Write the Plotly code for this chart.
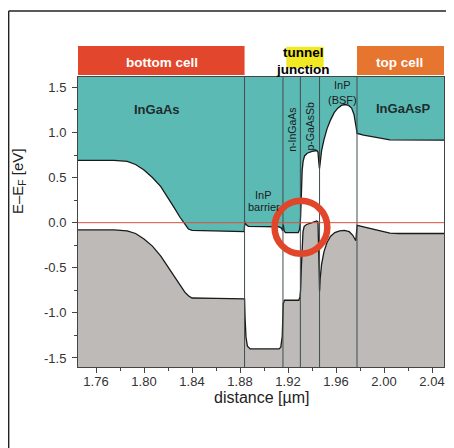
import plotly.graph_objects as go

# ---------------- data ----------------
# conduction band edge (x in µm, E-EF in eV)
cb_x = [1.745, 1.775, 1.786, 1.793, 1.800, 1.807, 1.814, 1.820, 1.825, 1.830, 1.834, 1.837, 1.840, 1.860, 1.8835,
        1.8840, 1.8850, 1.8870, 1.9120, 1.9145, 1.9155,
        1.9160, 1.9168, 1.9178, 1.9285, 1.9295, 1.9302,
        1.9306, 1.9312, 1.9318, 1.9326, 1.9338, 1.9360, 1.9400, 1.9440, 1.9450, 1.9456, 1.9462,
        1.9468, 1.9480, 1.9500, 1.9525, 1.9555, 1.9585, 1.9615, 1.9645, 1.9675, 1.9705, 1.9730, 1.9750, 1.9765, 1.9773,
        1.9776, 1.9830, 1.9890, 1.9970, 2.0050, 2.0500]
cb_e = [0.69, 0.69, 0.68, 0.645, 0.585, 0.50, 0.40, 0.28, 0.17, 0.06, -0.02, -0.07, -0.085, -0.09, -0.10,
        0.01, -0.02, -0.04, -0.045, -0.06, -0.09,
        -0.02, -0.09, -0.11, -0.11, -0.08, -0.02,
        0.10, 0.40, 0.58, 0.68, 0.74, 0.77, 0.79, 0.80, 0.78, 0.68, 0.60,
        0.66, 0.80, 0.92, 1.04, 1.14, 1.22, 1.27, 1.30, 1.31, 1.30, 1.27, 1.20, 1.08, 1.00,
        0.99, 0.97, 0.955, 0.93, 0.918, 0.915]

# valence band edge
vb_x = [1.745, 1.775, 1.786, 1.793, 1.800, 1.807, 1.814, 1.820, 1.825, 1.830, 1.834, 1.837, 1.840, 1.860, 1.8838,
        1.8842, 1.8850, 1.8862, 1.8885, 1.9125, 1.9140, 1.9152, 1.9157,
        1.9160, 1.9170, 1.9290, 1.9300,
        1.9305, 1.9311, 1.9317, 1.9325, 1.9335, 1.9355, 1.9400, 1.9440, 1.9450, 1.9456, 1.9460, 1.9463,
        1.9468, 1.9480, 1.9500, 1.9525, 1.9555, 1.9590, 1.9630, 1.9670, 1.9710, 1.9740, 1.9765,
        1.9776, 1.9830, 1.9890, 1.9970, 2.0050, 2.0120, 2.0500]
vb_e = [-0.08, -0.08, -0.09, -0.12, -0.18, -0.26, -0.37, -0.49, -0.60, -0.70, -0.77, -0.81, -0.835, -0.84, -0.845,
        -1.05, -1.27, -1.37, -1.40, -1.40, -1.38, -1.26, -1.05,
        -0.90, -0.86, -0.86, -0.82,
        -0.75, -0.50, -0.25, -0.10, -0.04, -0.02, 0.00, 0.02, 0.01, -0.20, -0.55, -0.76,
        -0.62, -0.46, -0.32, -0.22, -0.15, -0.11, -0.09, -0.085, -0.10, -0.14, -0.20,
        -0.03, -0.045, -0.063, -0.09, -0.115, -0.12, -0.12]

layer_bounds = [1.8838, 1.9158, 1.9303, 1.9463, 1.9775]
x_range = [1.745, 2.050]
y_range = [-1.60, 1.615]
x_ticks = [1.76, 1.80, 1.84, 1.88, 1.92, 1.96, 2.00, 2.04]
x_tick_text = ["1.76", "1.80", "1.84", "1.88", "1.92", "1.96", "2.00", "2.04"]
y_ticks = [-1.5, -1.0, -0.5, 0.0, 0.5, 1.0, 1.5]
y_tick_text = ["-1.5", "-1.0", "-0.5", "0.0", "0.5", "1.0", "1.5"]

TEAL = "#5cbab5"
GREY = "#bdbab8"
FONT = "Liberation Sans, Arial, sans-serif"

fig = go.Figure()

# teal region above conduction band
fig.add_trace(go.Scatter(x=cb_x + [x_range[1], x_range[0]], y=cb_e + [3, 3],
                         fill="toself", fillcolor=TEAL, line=dict(width=0),
                         mode="lines", hoverinfo="skip", showlegend=False))
# grey region below valence band
fig.add_trace(go.Scatter(x=vb_x + [x_range[1], x_range[0]], y=vb_e + [-3, -3],
                         fill="toself", fillcolor=GREY, line=dict(width=0),
                         mode="lines", hoverinfo="skip", showlegend=False))
# band edges
fig.add_trace(go.Scatter(x=cb_x, y=cb_e, mode="lines", line=dict(color="#1a1a1a", width=1.3),
                         showlegend=False))
fig.add_trace(go.Scatter(x=vb_x, y=vb_e, mode="lines", line=dict(color="#1a1a1a", width=1.3),
                         showlegend=False))

shapes = []
for b in layer_bounds:
    shapes.append(dict(type="line", xref="x", yref="paper", x0=b, x1=b, y0=0, y1=1,
                       line=dict(color="#3f4d4c", width=1), layer="above"))
# Fermi level
shapes.append(dict(type="line", xref="paper", yref="y", x0=0, x1=1, y0=0, y1=0,
                   line=dict(color="#d9503a", width=1), layer="above"))
# red circle around tunnel region
cx, cy, rx, ry = 1.9308, -0.051, 0.0220, 0.293
shapes.append(dict(type="circle", xref="x", yref="y", x0=cx - rx, x1=cx + rx, y0=cy - ry, y1=cy + ry,
                   line=dict(color="#e1452a", width=6.5), layer="above"))
# banners
shapes.append(dict(type="rect", xref="x", yref="paper", x0=x_range[0], x1=layer_bounds[0],
                   y0=1.0069, y1=1.1069, fillcolor="#e2462c", line=dict(width=0)))
shapes.append(dict(type="rect", xref="x", yref="paper", x0=layer_bounds[4], x1=x_range[1],
                   y0=1.0069, y1=1.1069, fillcolor="#e6752f", line=dict(width=0)))
shapes.append(dict(type="rect", xref="x", yref="paper", x0=1.9186, x1=1.9497,
                   y0=1.031, y1=1.1045, fillcolor="#f1e923", line=dict(width=0)))
# outer frame
shapes.append(dict(type="line", xref="paper", yref="paper", x0=-0.1895, x1=1.05, y0=1.2276, y1=1.2276,
                   line=dict(color="#222", width=1.5)))
shapes.append(dict(type="line", xref="paper", yref="paper", x0=-0.1895, x1=-0.1895, y0=1.2276, y1=-0.3,
                   line=dict(color="#222", width=1.5)))

ann = []
def add_text(t, x, y, size=11, bold=False, color="#1a1a1a", xref="x", yref="y", angle=0):
    ann.append(dict(text=("<b>%s</b>" % t) if bold else t, x=x, y=y, xref=xref, yref=yref,
                    showarrow=False, textangle=angle,
                    font=dict(family=FONT, size=size, color=color), xanchor="center", yanchor="middle"))

add_text("InGaAs", 1.8108, 1.25, size=13, bold=True, color="#1f2d2d")
add_text("InGaAsP", 2.0163, 1.27, size=13, bold=True, color="#1f2d2d")
add_text("InP", 1.8997, 0.31, size=11)
add_text("barrier", 1.8997, 0.17, size=11)
add_text("n-InGaAs", 1.9233, 1.03, size=10.5, angle=-90)
add_text("p-GaAsSb", 1.9386, 1.07, size=10.5, angle=-90)
add_text("InP", 1.9650, 1.53, size=11)
add_text("(BSF)", 1.9650, 1.36, size=11)
add_text("bottom cell", 1.8147, 1.0517, size=13.5, bold=True, color="white", yref="paper")
add_text("top cell", 2.0132, 1.0517, size=13.5, bold=True, color="white", yref="paper")
add_text("tunnel", 1.9328, 1.0838, size=13.5, bold=True, color="black", yref="paper")
add_text("junction", 1.9328, 1.0266, size=13.5, bold=True, color="black", yref="paper")
add_text("distance [µm]", 0.5, -0.104, size=16, color="#222", xref="paper", yref="paper")
add_text("E–E<sub>F</sub> [eV]", -0.164, 0.641, size=15, color="#222", xref="paper", yref="paper", angle=-90)

fig.update_layout(
    width=446, height=440,
    margin=dict(l=70, r=10, t=69, b=81),
    paper_bgcolor="white", plot_bgcolor="white",
    shapes=shapes, annotations=ann,
    font=dict(family=FONT, size=13, color="#333"),
    xaxis=dict(range=x_range, tickvals=x_ticks, ticktext=x_tick_text, ticks="outside", ticklen=5,
               tickcolor="#444", showgrid=False, zeroline=False, showline=True, linecolor="#444",
               linewidth=1, mirror=True, ticklabelstandoff=-3,
               minor=dict(tickvals=[1.78, 1.82, 1.86, 1.90, 1.94, 1.98, 2.02], ticks="outside",
                          ticklen=3, tickcolor="#444", showgrid=False)),
    yaxis=dict(range=y_range, tickvals=y_ticks, ticktext=y_tick_text, ticks="outside", ticklen=5,
               tickcolor="#444", showgrid=False, zeroline=False, showline=True, linecolor="#444",
               linewidth=1, mirror=True, ticklabelstandoff=3,
               minor=dict(tickvals=[-1.25, -0.75, -0.25, 0.25, 0.75, 1.25], ticks="outside",
                          ticklen=3, tickcolor="#444", showgrid=False)),
)

fig.write_html("out.html")
